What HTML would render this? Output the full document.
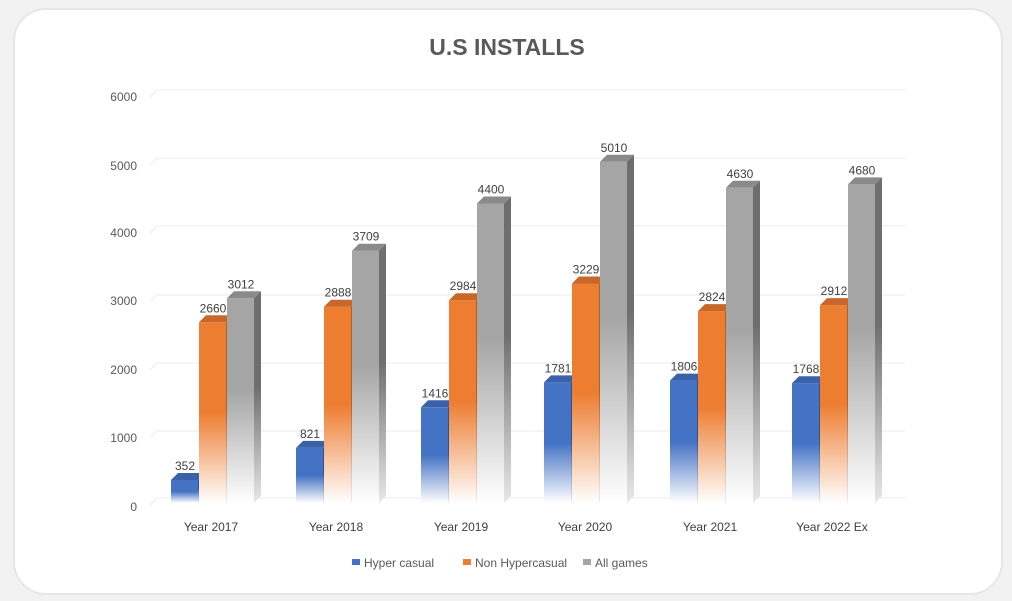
<!DOCTYPE html>
<html><head><meta charset="utf-8"><style>
html,body{margin:0;padding:0;background:#f2f2f2;}
svg{display:block;font-family:"Liberation Sans",sans-serif;}
</style></head><body>
<svg width="1012" height="601" viewBox="0 0 1012 601" xmlns="http://www.w3.org/2000/svg">
<defs>
<linearGradient id="gb" x1="0" y1="0" x2="0" y2="1"><stop offset="0" stop-color="#4472c4"/><stop offset="0.5" stop-color="#4472c4"/><stop offset="1" stop-color="#ffffff"/></linearGradient>
<linearGradient id="go" x1="0" y1="0" x2="0" y2="1"><stop offset="0" stop-color="#ed7d31"/><stop offset="0.5" stop-color="#ed7d31"/><stop offset="1" stop-color="#ffffff"/></linearGradient>
<linearGradient id="gg" x1="0" y1="0" x2="0" y2="1"><stop offset="0" stop-color="#a5a5a5"/><stop offset="0.45" stop-color="#a5a5a5"/><stop offset="1" stop-color="#ffffff"/></linearGradient>
<linearGradient id="sb" x1="0" y1="0" x2="0" y2="1"><stop offset="0" stop-color="#2f528f"/><stop offset="0.5" stop-color="#2f528f"/><stop offset="1" stop-color="#e8e8e8"/></linearGradient>
<linearGradient id="so" x1="0" y1="0" x2="0" y2="1"><stop offset="0" stop-color="#b85e22"/><stop offset="0.5" stop-color="#b85e22"/><stop offset="1" stop-color="#eeeeee"/></linearGradient>
<linearGradient id="sg" x1="0" y1="0" x2="0" y2="1"><stop offset="0" stop-color="#6e6e6e"/><stop offset="0.45" stop-color="#6e6e6e"/><stop offset="1" stop-color="#e8e8e8"/></linearGradient>
</defs>
<rect x="14" y="9" width="988" height="585" rx="32" fill="#ffffff" stroke="#e6e6e6" stroke-width="2"/>
<text x="507" y="55" text-anchor="middle" font-size="23" font-weight="bold" fill="#595959">U.S INSTALLS</text>
<g stroke="#ebebeb" stroke-width="1" fill="none">
<path d="M150 97 L157 90 H905"/><path d="M150 165 L157 158 H905"/><path d="M150 233 L157 226 H905"/><path d="M150 302 L157 295 H905"/><path d="M150 370 L157 363 H905"/><path d="M150 438 L157 431 H905"/><path d="M150 505 L157 498 H905"/>
</g>
<g font-size="12" fill="#595959" text-anchor="end">
<text x="137" y="101">6000</text><text x="137" y="170">5000</text><text x="137" y="237">4000</text><text x="137" y="305">3000</text><text x="137" y="374">2000</text><text x="137" y="442">1000</text><text x="137" y="511">0</text>
</g>
<g font-size="12" fill="#404040" text-anchor="middle">
<text x="211" y="531">Year 2017</text><text x="336" y="531">Year 2018</text><text x="461" y="531">Year 2019</text><text x="585" y="531">Year 2020</text><text x="710" y="531">Year 2021</text><text x="832" y="531">Year 2022 Ex</text>
</g>
<g font-size="12" fill="#404040" text-anchor="middle">
<!-- 2017 -->
<g transform="translate(171,480)"><polygon points="27,0 34,-7 34,16 27,23" fill="url(#sb)"/><rect width="27" height="23" fill="url(#gb)"/><polygon points="0,0 7,-7 34,-7 27,0" fill="#3a62aa"/><text x="14" y="-10">352</text></g>
<g transform="translate(199,322.3)"><polygon points="27,0 34,-7 34,173.7 27,180.7" fill="url(#so)"/><rect width="27" height="180.7" fill="url(#go)"/><polygon points="0,0 7,-7 34,-7 27,0" fill="#c8672a"/><text x="14" y="-10">2660</text></g>
<g transform="translate(227,298.3)"><polygon points="27,0 34,-7 34,197.7 27,204.7" fill="url(#sg)"/><rect width="27" height="204.7" fill="url(#gg)"/><polygon points="0,0 7,-7 34,-7 27,0" fill="#8a8a8a"/><text x="14" y="-10">3012</text></g>
<!-- 2018 -->
<g transform="translate(296,447.9)"><polygon points="27,0 34,-7 34,48.1 27,55.1" fill="url(#sb)"/><rect width="27" height="55.1" fill="url(#gb)"/><polygon points="0,0 7,-7 34,-7 27,0" fill="#3a62aa"/><text x="14" y="-10">821</text></g>
<g transform="translate(324,306.7)"><polygon points="27,0 34,-7 34,189.3 27,196.3" fill="url(#so)"/><rect width="27" height="196.3" fill="url(#go)"/><polygon points="0,0 7,-7 34,-7 27,0" fill="#c8672a"/><text x="14" y="-10">2888</text></g>
<g transform="translate(352,250.7)"><polygon points="27,0 34,-7 34,245.3 27,252.3" fill="url(#sg)"/><rect width="27" height="252.3" fill="url(#gg)"/><polygon points="0,0 7,-7 34,-7 27,0" fill="#8a8a8a"/><text x="14" y="-10">3709</text></g>
<!-- 2019 -->
<g transform="translate(421,407.3)"><polygon points="27,0 34,-7 34,88.7 27,95.7" fill="url(#sb)"/><rect width="27" height="95.7" fill="url(#gb)"/><polygon points="0,0 7,-7 34,-7 27,0" fill="#3a62aa"/><text x="14" y="-10">1416</text></g>
<g transform="translate(449,300.2)"><polygon points="27,0 34,-7 34,195.8 27,202.8" fill="url(#so)"/><rect width="27" height="202.8" fill="url(#go)"/><polygon points="0,0 7,-7 34,-7 27,0" fill="#c8672a"/><text x="14" y="-10">2984</text></g>
<g transform="translate(477,203.5)"><polygon points="27,0 34,-7 34,292.5 27,299.5" fill="url(#sg)"/><rect width="27" height="299.5" fill="url(#gg)"/><polygon points="0,0 7,-7 34,-7 27,0" fill="#8a8a8a"/><text x="14" y="-10">4400</text></g>
<!-- 2020 -->
<g transform="translate(544,382.4)"><polygon points="27,0 34,-7 34,113.6 27,120.6" fill="url(#sb)"/><rect width="27" height="120.6" fill="url(#gb)"/><polygon points="0,0 7,-7 34,-7 27,0" fill="#3a62aa"/><text x="14" y="-10">1781</text></g>
<g transform="translate(572,283.5)"><polygon points="27,0 34,-7 34,212.5 27,219.5" fill="url(#so)"/><rect width="27" height="219.5" fill="url(#go)"/><polygon points="0,0 7,-7 34,-7 27,0" fill="#c8672a"/><text x="14" y="-10">3229</text></g>
<g transform="translate(600,161.8)"><polygon points="27,0 34,-7 34,334.2 27,341.2" fill="url(#sg)"/><rect width="27" height="341.2" fill="url(#gg)"/><polygon points="0,0 7,-7 34,-7 27,0" fill="#8a8a8a"/><text x="14" y="-10">5010</text></g>
<!-- 2021 -->
<g transform="translate(670,380.6)"><polygon points="27,0 34,-7 34,115.4 27,122.4" fill="url(#sb)"/><rect width="27" height="122.4" fill="url(#gb)"/><polygon points="0,0 7,-7 34,-7 27,0" fill="#3a62aa"/><text x="14" y="-10">1806</text></g>
<g transform="translate(698,311.1)"><polygon points="27,0 34,-7 34,184.9 27,191.9" fill="url(#so)"/><rect width="27" height="191.9" fill="url(#go)"/><polygon points="0,0 7,-7 34,-7 27,0" fill="#c8672a"/><text x="14" y="-10">2824</text></g>
<g transform="translate(726,187.8)"><polygon points="27,0 34,-7 34,308.2 27,315.2" fill="url(#sg)"/><rect width="27" height="315.2" fill="url(#gg)"/><polygon points="0,0 7,-7 34,-7 27,0" fill="#8a8a8a"/><text x="14" y="-10">4630</text></g>
<!-- 2022 -->
<g transform="translate(792,383.2)"><polygon points="27,0 34,-7 34,112.8 27,119.8" fill="url(#sb)"/><rect width="27" height="119.8" fill="url(#gb)"/><polygon points="0,0 7,-7 34,-7 27,0" fill="#3a62aa"/><text x="14" y="-10">1768</text></g>
<g transform="translate(820,305.1)"><polygon points="27,0 34,-7 34,190.9 27,197.9" fill="url(#so)"/><rect width="27" height="197.9" fill="url(#go)"/><polygon points="0,0 7,-7 34,-7 27,0" fill="#c8672a"/><text x="14" y="-10">2912</text></g>
<g transform="translate(848,184.4)"><polygon points="27,0 34,-7 34,311.6 27,318.6" fill="url(#sg)"/><rect width="27" height="318.6" fill="url(#gg)"/><polygon points="0,0 7,-7 34,-7 27,0" fill="#8a8a8a"/><text x="14" y="-10">4680</text></g>
</g>
<g font-size="12" fill="#595959">
<rect x="352" y="559" width="8" height="6" fill="#4472c4"/><text x="364" y="567">Hyper casual</text>
<rect x="463" y="559" width="8" height="6" fill="#ed7d31"/><text x="475" y="567">Non Hypercasual</text>
<rect x="583" y="559" width="8" height="6" fill="#a5a5a5"/><text x="595" y="567">All games</text>
</g>
</svg>
</body></html>
